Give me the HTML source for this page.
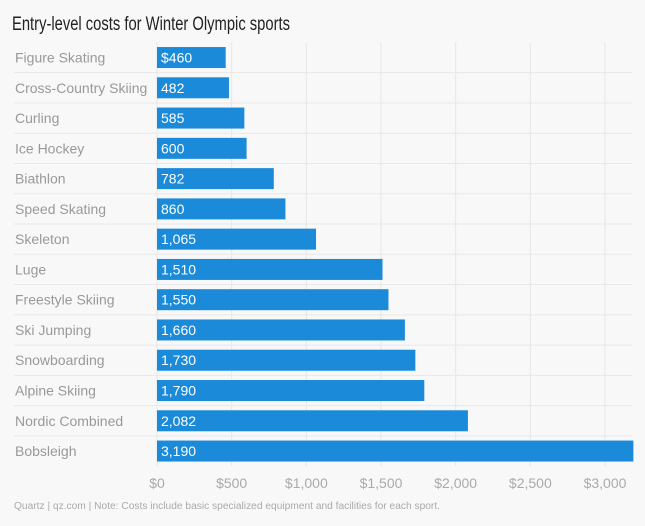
<!DOCTYPE html>
<html><head><meta charset="utf-8"><style>
html,body{margin:0;padding:0;background:#f8f8f8;}
svg{display:block;font-family:"Liberation Sans",sans-serif;}
</style></head><body>
<svg id="chart" width="645" height="526" viewBox="0 0 645 526">
<text x="12" y="30" font-size="19" fill="#222" textLength="278" lengthAdjust="spacingAndGlyphs">Entry-level costs for Winter Olympic sports</text>
<g id="grid"></g><g id="rows"></g><g id="bars"></g><g id="xticks"></g>
<text x="14" y="509" font-size="10" fill="#aaa" textLength="426" lengthAdjust="spacingAndGlyphs">Quartz | qz.com | Note: Costs include basic specialized equipment and facilities for each sport.</text>
</svg>
<script>
const categories=["Figure Skating","Cross-Country Skiing","Curling","Ice Hockey","Biathlon","Speed Skating","Skeleton","Luge","Freestyle Skiing","Ski Jumping","Snowboarding","Alpine Skiing","Nordic Combined","Bobsleigh"];
const values=[460,482,585,600,782,860,1065,1510,1550,1660,1730,1790,2082,3190];
const valueLabels=["$460","482","585","600","782","860","1,065","1,510","1,550","1,660","1,730","1,790","2,082","3,190"];
const tickValues=[0,500,1000,1500,2000,2500,3000];
const tickLabels=["$0","$500","$1,000","$1,500","$2,000","$2,500","$3,000"];
const NS="http://www.w3.org/2000/svg";
const x0=157,pxPer=448/3000;
const xs=v=>x0+v*pxPer;
const rowTop=42.4,pitch=30.27;
const yc=i=>rowTop+pitch*(i+0.5);
function mk(t,a,p){const e=document.createElementNS(NS,t);for(const k in a)e.setAttribute(k,a[k]);p.appendChild(e);return e;}
const grid=document.getElementById('grid'),rows=document.getElementById('rows'),bars=document.getElementById('bars'),xt=document.getElementById('xticks');
tickValues.forEach((v,i)=>{
 const l=mk('line',{x1:xs(v),x2:xs(v),y1:rowTop,y2:rowTop+pitch*categories.length,stroke:'#e6e6e6','stroke-width':1},grid);
 
 
 const t=mk('text',{x:xs(v),y:488,'font-size':14,fill:'#aaa','text-anchor':'middle'},xt);
 t.textContent=tickLabels[i];
 
 
});
categories.forEach((c,i)=>{
 if(i>0){const s=mk('line',{x1:14,x2:632,y1:rowTop+pitch*i,y2:rowTop+pitch*i,stroke:'#e8e8e8','stroke-width':1},rows);
 
 }
 const t=mk('text',{x:15,y:yc(i)+5,'font-size':14,fill:'#999'},rows);
 t.textContent=c;
 
 
 const r=mk('rect',{x:x0,y:yc(i)-10.5,width:xs(values[i])-x0,height:21,fill:'#1a8ad9'},bars);
 
 
 const vt=mk('text',{x:x0+4,y:yc(i)+5,'font-size':14,fill:'#fff'},bars);
 vt.textContent=valueLabels[i];
 
 
});
</script>
</body></html>
